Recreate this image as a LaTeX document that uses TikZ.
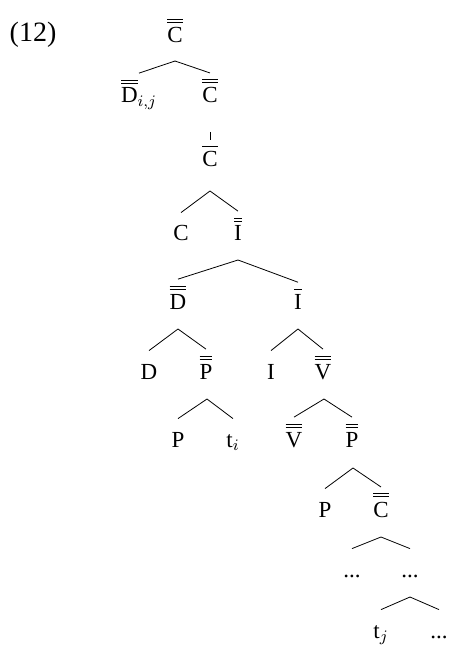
\documentclass[tikz,border=0pt]{standalone}
\usepackage{fontspec}
\setmainfont{Liberation Serif}
\newcommand{\dbar}[1]{\leavevmode\vbox{\hrule height0.45pt\kern1.1pt\hrule height0.45pt\kern2.2pt\hbox{#1}}}
\newcommand{\sbar}[1]{\leavevmode\vbox{\hrule height0.45pt\kern2.2pt\hbox{#1}}}
\tikzset{
  cat/.style={anchor=base, inner sep=3pt, text height=11pt},
  barcat/.style={anchor=base, inner sep=3pt},
}
\begin{document}
\begin{tikzpicture}[x=0.5pt,y=-0.5pt,font=\fontsize{11.5}{13}\selectfont]
            \useasboundingbox (0,0) rectangle (449,646);
            \node[anchor=base, font=\fontsize{14}{16}\selectfont] (ex) at (33,42) {(12)};

            \node[barcat] (CPa) at (175,43) {\dbar{C}};
            \node[barcat] (DPij) at (139,103) {\dbar{D}$_{i,j}$};
            \node[barcat] (CPb) at (210,103) {\dbar{C}};
            \node[barcat] (Cbar) at (210,167) {\sbar{C}};
            \node[cat] (C) at (181,241) {C};
            \node[barcat] (IP) at (238,241) {\dbar{I}};
            \node[barcat] (DPa) at (178,309) {\dbar{D}};
            \node[barcat] (Ibar) at (298,309) {\sbar{I}};
            \node[cat] (D) at (149,379) {D};
            \node[barcat] (PPa) at (206,379) {\dbar{P}};
            \node[cat] (I) at (271,379) {I};
            \node[barcat] (VPa) at (323,379) {\dbar{V}};
            \node[cat] (Pa) at (178,447) {P};
            \node[cat] (ti) at (233,447) {t$_i$};
            \node[barcat] (VPb) at (294,447) {\dbar{V}};
            \node[barcat] (PPb) at (352,447) {\dbar{P}};
            \node[cat] (Pb) at (325,517) {P};
            \node[barcat] (CPc) at (381,517) {\dbar{C}};
            \node[cat] (dl) at (352,577) {...};
            \node[cat] (dr) at (410,577) {...};
            \node[cat] (tj) at (381,638) {t$_j$};
            \node[cat] (de) at (439,638) {...};

            \coordinate (b1) at (175,61); \coordinate (u1) at (210,132);
            \coordinate (b2) at (210,191); \coordinate (b3) at (238,260);
            \coordinate (b4) at (178,329); \coordinate (b5) at (298,329);
            \coordinate (b6) at (207,399); \coordinate (b7) at (324,399);
            \coordinate (b8) at (353,468); \coordinate (b9) at (381,537);
            \coordinate (b10) at (410,597);

            \draw (b1) to (DPij.north); \draw (b1) to (CPb.north);
            \draw (u1) to (Cbar.north);
            \draw (b2) to (C.north); \draw (b2) to (IP.north);
            \draw (b3) to (DPa.north); \draw (b3) to (Ibar.north);
            \draw (b4) to (D.north); \draw (b4) to (PPa.north);
            \draw (b5) to (I.north); \draw (b5) to (VPa.north);
            \draw (b6) to (Pa.north); \draw (b6) to (ti.north);
            \draw (b7) to (VPb.north); \draw (b7) to (PPb.north);
            \draw (b8) to (Pb.north); \draw (b8) to (CPc.north);
            \draw (b9) to (dl.north); \draw (b9) to (dr.north);
            \draw (b10) to (tj.north); \draw (b10) to (de.north);
        \end{tikzpicture}
\end{document}
